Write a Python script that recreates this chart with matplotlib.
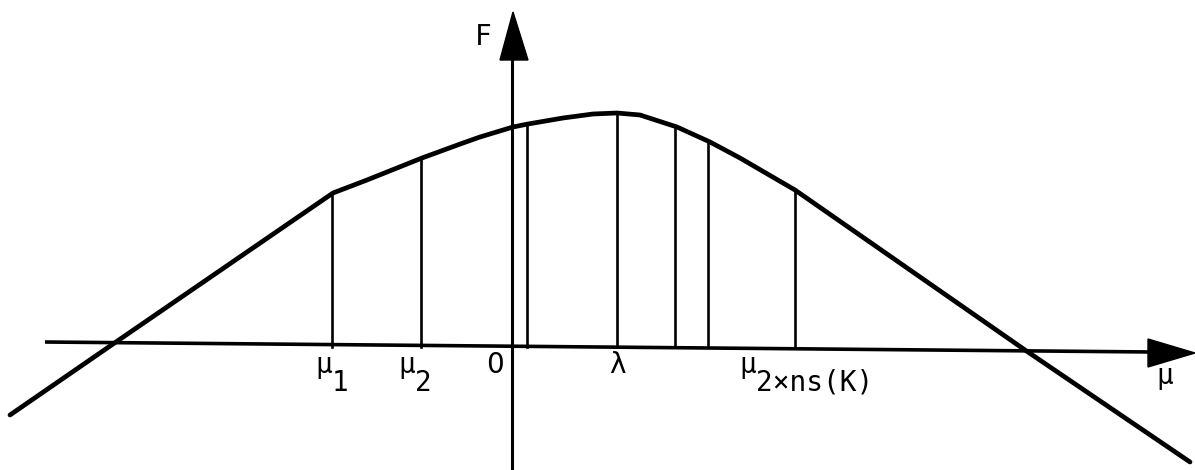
import matplotlib
matplotlib.use("Agg")
import matplotlib.pyplot as plt
from matplotlib.patches import Polygon

# Curve F(mu) (arbitrary units)
curve_mu = [-502, -399, -179, -145, -90, -49, -32, 1, 16, 51, 81, 105, 128, 165, 198, 228, 283, 513, 678]
curve_F = [-68, 3, 154, 167, 189, 204, 210, 220, 223, 229, 233, 234, 232, 220, 205, 189, 157, -3, -115]

# Vertical sample lines (position, height)
sample_mu = [-180, -91, 15, 105, 163, 196, 283]
sample_F = [154, 189, 223, 234, 221, 206, 157]

# Labels under the axis: (main text, subscript text)
label_main = ["μ", "μ", "0", "λ", "μ"]
label_sub = ["1", "2", "", "", "2×ns(K)"]
label_pos = [-188, -105, -17, 106, 236]

fig = plt.figure(figsize=(11.95, 4.70), dpi=100)
ax = fig.add_axes([0, 0, 1, 1])
ax.set_xlim(-512, 683)
ax.set_ylim(-123, 347)
ax.axis("off")

# horizontal axis
ax.plot([-467, 640], [5, -5], color="black", lw=2.6, solid_capstyle="butt")
ax.add_patch(Polygon([[636, 8], [683, -6], [636, -20]], closed=True, color="black"))
# vertical axis
ax.plot([0, 0], [-123, 295], color="black", lw=2.2, solid_capstyle="butt")
ax.add_patch(Polygon([[-12, 287], [1, 335], [16, 287]], closed=True, color="black"))

# curve
ax.plot(curve_mu, curve_F, color="black", lw=3.4, solid_joinstyle="round", solid_capstyle="round")

# sample lines
for m, f in zip(sample_mu, sample_F):
    ax.plot([m, m], [0, f], color="black", lw=1.9)

mono = "DejaVu Sans Mono"
fs = 20
for p, main, sub in zip(label_pos, label_main, label_sub):
    fam = "DejaVu Sans" if main == "0" else mono
    ax.text(p, -18, main, ha="center", va="center", fontsize=fs, family=fam)
    if sub:
        ax.text(p + 8, -36, sub, ha="left", va="center", fontsize=fs, family=mono)

ax.text(-29, 310, "F", fontsize=fs, family=mono, ha="center", va="center")
ax.text(653, -29, "μ", fontsize=fs, family=mono, ha="center", va="center")

fig.savefig("out.png", dpi=100)
